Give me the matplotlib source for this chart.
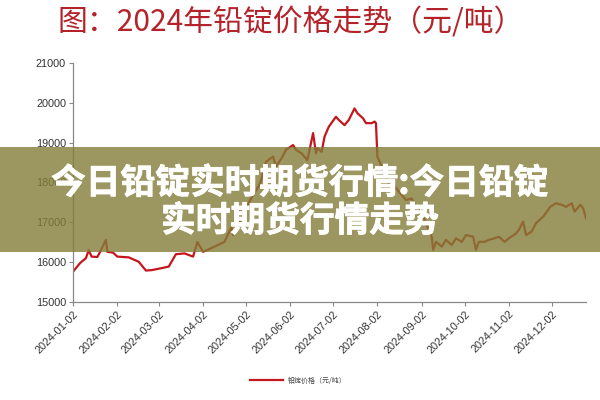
import matplotlib
matplotlib.use("Agg")
import matplotlib.pyplot as plt
import matplotlib.dates as mdates
import matplotlib.patches as patches
import matplotlib.patheffects as pe
import pandas as pd

# ==================Data===================
DATES = ["2024-01-02", "2024-01-07", "2024-01-11", "2024-01-13", "2024-01-15", "2024-01-19",
         "2024-01-21", "2024-01-25", "2024-01-26", "2024-01-30", "2024-02-02", "2024-02-10",
         "2024-02-17", "2024-02-22", "2024-02-26", "2024-03-04", "2024-03-09", "2024-03-14",
         "2024-03-20", "2024-03-26", "2024-03-29", "2024-04-02", "2024-04-10", "2024-04-17",
         "2024-04-22", "2024-04-23", "2024-05-05", "2024-05-12", "2024-05-16", "2024-05-21",
         "2024-05-23", "2024-05-27", "2024-05-30", "2024-06-04", "2024-06-06", "2024-06-10",
         "2024-06-14", "2024-06-18", "2024-06-20", "2024-06-21", "2024-06-24", "2024-06-26",
         "2024-06-29", "2024-07-04", "2024-07-06", "2024-07-10", "2024-07-13", "2024-07-17",
         "2024-07-19", "2024-07-23", "2024-07-25", "2024-07-29", "2024-07-31", "2024-08-01",
         "2024-08-02", "2024-08-05", "2024-08-10", "2024-08-14", "2024-08-19", "2024-08-22",
         "2024-08-26", "2024-08-29", "2024-09-02", "2024-09-05", "2024-09-09", "2024-09-10",
         "2024-09-12", "2024-09-16", "2024-09-19", "2024-09-23", "2024-09-26", "2024-09-30",
         "2024-10-03", "2024-10-08", "2024-10-10", "2024-10-12", "2024-10-16", "2024-10-19",
         "2024-10-23", "2024-10-26", "2024-10-30", "2024-11-02", "2024-11-07", "2024-11-09",
         "2024-11-12", "2024-11-14", "2024-11-18", "2024-11-21", "2024-11-26", "2024-12-01",
         "2024-12-05", "2024-12-09", "2024-12-12", "2024-12-16", "2024-12-18", "2024-12-22",
         "2024-12-24", "2024-12-26"]
PRICES = [15760, 15980, 16100, 16300, 16140, 16130,
          16260, 16560, 16260, 16240, 16140, 16120,
          16010, 15790, 15800, 15850, 15890, 16200,
          16220, 16140, 16510, 16260, 16390, 16510,
          16890, 16680, 17560, 17980, 18520, 18650,
          18400, 18610, 18820, 18940, 18820, 18730,
          18560, 19240, 18730, 18860, 18770, 19150,
          19400, 19650, 19570, 19440, 19570, 19860,
          19740, 19610, 19490, 19490, 19530, 19490,
          18650, 18400, 17980, 17895, 17690, 17560,
          17600, 17390, 17230, 16980, 16640, 16310,
          16510, 16390, 16560, 16430, 16600, 16510,
          16680, 16640, 16310, 16510, 16510, 16560,
          16600, 16640, 16510, 16600, 16720, 16810,
          17020, 16680, 16770, 16980, 17140, 17390,
          17480, 17440, 17390, 17480, 17270, 17440,
          17350, 17100]
TICK_DATES = ["2024-%02d-02" % m for m in range(1, 13)]
Y_TICKS = [15000, 16000, 17000, 18000, 19000, 20000, 21000]

TITLE = "图：2024年铅锭价格走势（元/吨）"
SERIES_NAME = "铅锭价格（元/吨）"
BANNER = "今日铅锭实时期货行情:今日铅锭\n实时期货行情走势"

CJK = ["Noto Sans CJK SC", "DejaVu Sans"]
LINE_RED = "#C4161C"

# ==================Plot=====================
plt.rcParams['font.family'] = ["Liberation Sans", "Noto Sans CJK SC"]
fig = plt.figure(figsize=(6, 4), dpi=100)
ax = fig.add_axes([0.1217, 0.245, 0.855, 0.5975])

dates = pd.to_datetime(DATES)
ax.plot(dates, PRICES, color=LINE_RED, lw=1.6, label=SERIES_NAME)

ax.set_ylim(15000, 21000)
ax.set_yticks(Y_TICKS)
ax.set_xlim(pd.Timestamp("2024-01-02"), pd.Timestamp("2024-12-26"))
ax.set_xticks(pd.to_datetime(TICK_DATES))
ax.xaxis.set_major_formatter(mdates.DateFormatter("%Y-%m-%d"))
for lab in ax.get_xticklabels():
    lab.set_rotation(45)
    lab.set_ha("right")
    lab.set_rotation_mode("anchor")
ax.tick_params(axis="both", labelsize=7.8, colors="#333333", length=3, width=0.8, pad=2)
ax.tick_params(axis="both", color="#888888")
for side in ["top", "right"]:
    ax.spines[side].set_visible(False)
for side in ["left", "bottom"]:
    ax.spines[side].set_color("#888888")
    ax.spines[side].set_linewidth(0.9)

leg = ax.legend(loc="center", bbox_to_anchor=(0.497, 0.048), bbox_transform=fig.transFigure,
                frameon=False, handlelength=4.8, handletextpad=0.6,
                prop={"family": CJK, "size": 5})
for t in leg.get_texts():
    t.set_color("#444444")

fig.text(58 / 600, 1 - 23 / 400, TITLE, ha="left", va="center", color="#B5232A",
         fontsize=21.5, family=CJK)

# translucent banner over the chart
band = patches.Rectangle((0, 1 - 252 / 400), 1, 105 / 400, transform=fig.transFigure,
                         fc="#847D38", alpha=0.8, ec="none", zorder=10)
fig.patches.append(band)
fig.text(0.5, 1 - 202 / 400, BANNER, ha="center", va="center", color="white",
         fontsize=25, fontweight="bold", family=CJK, linespacing=1.1, zorder=11,
         path_effects=[pe.withStroke(linewidth=0.6, foreground="white")])

fig.savefig("out.png", dpi=100)
